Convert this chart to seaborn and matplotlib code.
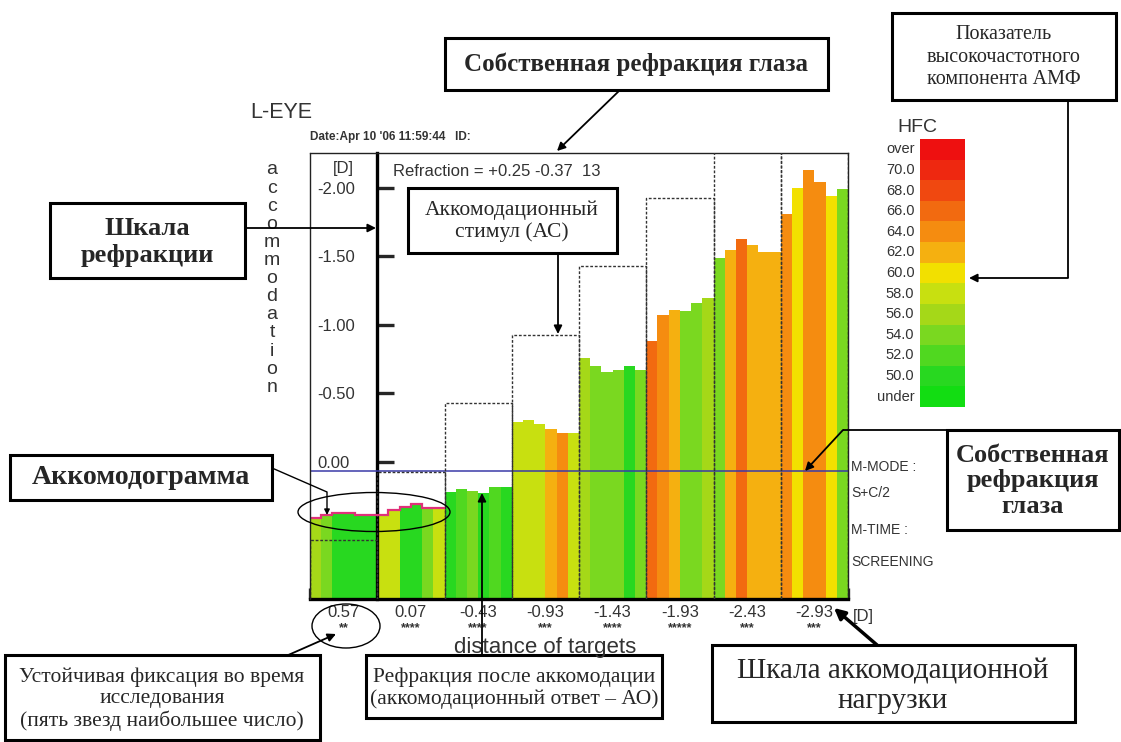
import numpy as np
import pandas as pd
import matplotlib
matplotlib.use('Agg')
import matplotlib.pyplot as plt
from matplotlib.colors import ListedColormap
from matplotlib.patches import Ellipse, Rectangle
import seaborn as sns

sns.set_style('white')
plt.rcParams['font.family'] = ['Liberation Sans', 'DejaVu Sans']

# ---------------- data ----------------
target_labels = ['0.57', '0.07', '-0.43', '-0.93', '-1.43', '-1.93', '-2.43', '-2.93']
stimulus = [0.57, 0.07, -0.43, -0.93, -1.43, -1.93, -2.43, -2.93]
stars = ['**', '****', '****', '***', '****', '*****', '***', '***']

# accommodative response (refraction, D) of every measurement, 6 per target
response = [
    0.41, 0.39, 0.37, 0.37, 0.385, 0.385,
    0.39, 0.35, 0.33, 0.31, 0.335, 0.335,
    0.22, 0.20, 0.21, 0.23, 0.18, 0.18,
    -0.29, -0.31, -0.28, -0.24, -0.21, -0.21,
    -0.76, -0.70, -0.66, -0.67, -0.70, -0.67,
    -0.88, -1.07, -1.11, -1.10, -1.16, -1.20,
    -1.49, -1.55, -1.63, -1.58, -1.53, -1.53,
    -1.81, -2.00, -2.13, -2.04, -1.94, -1.99,
]
hfc_level = [
    '56.0', '54.0', '50.0', '50.0', '50.0', '50.0',
    '58.0', '58.0', '50.0', '50.0', '54.0', '58.0',
    '50.0', '52.0', '54.0', '50.0', '52.0', '50.0',
    '58.0', '58.0', '58.0', '62.0', '64.0', '58.0',
    '56.0', '54.0', '54.0', '54.0', '50.0', '54.0',
    '66.0', '64.0', '62.0', '54.0', '54.0', '56.0',
    '54.0', '62.0', '66.0', '62.0', '62.0', '62.0',
    '64.0', '60.0', '64.0', '64.0', '60.0', '54.0',
]
hfc_labels = ['over', '70.0', '68.0', '66.0', '64.0', '62.0', '60.0',
              '58.0', '56.0', '54.0', '52.0', '50.0', 'under']
hfc_colors = ['#ee1010', '#ee2810', '#f04810', '#f26a10', '#f58c10', '#f5b010',
              '#f2e000', '#c8e010', '#a5d818', '#7ad820', '#50d820', '#28d820', '#12dd12']
own_refraction = 0.065
y_ticks = [-2.0, -1.5, -1.0, -0.5, 0.0, 0.5]
y_tick_labels = ['-2.00', '-1.50', '-1.00', '-0.50', '0.00', '0.50']
n_per = 6

# ---------------- figure ----------------
W, H = 1121, 742
fig = plt.figure(figsize=(W / 100, H / 100), dpi=100)
fig.patch.set_facecolor('white')


def fr(x0, y0, x1, y1):
    return [x0 / W, 1 - y1 / H, (x1 - x0) / W, (y1 - y0) / H]


FLOOR = 1.0
TOP = -2.255
ax = fig.add_axes(fr(310, 153, 848, 599))
resp = np.array(response)
df = pd.DataFrame({'pos': np.arange(len(resp)), 'h': FLOOR - resp, 'hfc': hfc_level})
pal = dict(zip(hfc_labels, hfc_colors))
sns.barplot(data=df, x='pos', y='h', hue='hfc', palette=pal, hue_order=hfc_labels,
            dodge=False, width=1.0, native_scale=True, errorbar=None, saturation=1,
            linewidth=0, legend=False, ax=ax)
nseg = len(stimulus)
ax.set_xlim(-0.5, nseg * n_per - 0.5)
ax.set_ylim(0, FLOOR - TOP)
ax.set_xlabel('')
ax.set_ylabel('')

# own refraction line
ax.axhline(FLOOR - own_refraction, color='#3a3aa8', lw=1.1, zorder=3)

# stimulus dashed boxes
for i, s in enumerate(stimulus):
    x0, x1 = i * n_per - 0.5, i * n_per + n_per - 0.5
    t = FLOOR - s
    ax.plot([x0, x0, x1, x1], [0, t, t, 0], ls=(0, (2, 1.3)), color='#333333', lw=1.0, zorder=4)

# accommodogram outline (first two targets)
ax.stairs(FLOOR - resp[:2 * n_per], edges=np.arange(2 * n_per + 1) - 0.5,
          baseline=None, color='#e0307a', lw=1.6, zorder=4)

# axes frame
for sp in ['top', 'right']:
    ax.spines[sp].set_linewidth(1.0)
    ax.spines[sp].set_color('#222222')
ax.spines['bottom'].set_linewidth(2.4)
ax.spines['bottom'].set_color('black')
ax.spines['left'].set_position(('data', n_per - 0.5))
ax.spines['left'].set_linewidth(2.4)
ax.spines['left'].set_color('black')
ax.axvline(-0.5, color='#222222', lw=1.0, clip_on=False, zorder=5)

ax.set_yticks(FLOOR - np.array(y_ticks))
ax.set_yticklabels(y_tick_labels)
ax.tick_params(axis='y', direction='in', length=12, width=2.4, pad=43, labelsize=12,
               labelcolor='#333333', left=True)
for lbl in ax.get_yticklabels():
    lbl.set_ha('left')

centers = [i * n_per + (n_per - 1) / 2 for i in range(nseg)]
ax.set_xticks(centers)
ax.set_xticklabels(target_labels)
ax.set_xticks([i * n_per - 0.5 for i in range(nseg + 1)], minor=True)
ax.tick_params(axis='x', which='major', length=0, pad=4, labelsize=12, labelcolor='#333333')
ax.tick_params(axis='x', which='minor', direction='in', length=8, width=2.4, bottom=True)
trans = matplotlib.transforms.blended_transform_factory(ax.transData, ax.transAxes)
for c, st in zip(centers, stars):
    ax.text(c, -0.066, st, transform=trans, ha='center', va='center', fontsize=9,
            fontweight='bold', color='#333333')

# ---------------- HFC colour scale ----------------
cax = fig.add_axes(fr(920, 139, 965, 407))
mat = np.arange(len(hfc_labels)).reshape(-1, 1)
sns.heatmap(mat, ax=cax, cmap=ListedColormap(hfc_colors), vmin=-0.5, vmax=len(hfc_labels) - 0.5,
            cbar=False, xticklabels=False, yticklabels=hfc_labels)
cax.tick_params(axis='y', length=0, pad=4, labelsize=10.5, labelrotation=0, labelcolor='#333333')

# ---------------- overlay: texts & annotations ----------------
ov = fig.add_axes([0, 0, 1, 1], zorder=10)
ov.set_xlim(0, W)
ov.set_ylim(H, 0)
ov.axis('off')
ov.patch.set_alpha(0)

SERIF = ['Liberation Serif', 'DejaVu Serif']
GRAY = '#333333'

ov.text(250, 113, 'L-EYE', fontsize=15.5, color=GRAY, va='center', ha='left')
ov.text(310, 137, "Date:Apr 10 '06 11:59:44   ID:", fontsize=8.5, fontweight='bold',
        color=GRAY, va='center', ha='left')
ov.text(343, 168, '[D]', fontsize=12, color=GRAY, va='center', ha='center')
ov.text(393, 172, 'Refraction = +0.25 -0.37  13', fontsize=12, color=GRAY, va='center', ha='left')
for k, ch in enumerate('accommodation'):
    ov.text(272, 170 + k * 18.1, ch, fontsize=14, color=GRAY, va='center', ha='center')
ov.text(545, 648, 'distance of targets', fontsize=16, color=GRAY, va='center', ha='center')
ov.text(853, 617, '[D]', fontsize=12, color=GRAY, va='center', ha='left')
for yy, tx in zip([467, 493, 530, 562], ['M-MODE :', 'S+C/2', 'M-TIME :', 'SCREENING']):
    ov.text(851, yy, tx, fontsize=10, color=GRAY, va='center', ha='left')
ov.text(897, 128, 'HFC', fontsize=14, color=GRAY, va='center', ha='left')


def box(x0, y0, x1, y1, lw=2.2):
    ov.add_patch(Rectangle((x0, y0), x1 - x0, y1 - y0, fc='white', ec='black', lw=lw, zorder=2))


def arrow(p0, p1, lw=1.3, ms=12):
    ov.annotate('', xy=p1, xytext=p0,
                arrowprops=dict(arrowstyle='-|>', color='black', lw=lw, mutation_scale=ms,
                                shrinkA=0, shrinkB=0), zorder=3)


def line(xs, ys, lw=1.3):
    ov.plot(xs, ys, color='black', lw=lw, zorder=3, solid_capstyle='butt')


# A
box(445, 38, 828, 90)
ov.text(636, 64, 'Собственная рефракция глаза', family=SERIF, fontsize=18, fontweight='bold',
        ha='center', va='center', zorder=4)
arrow((620, 90), (557, 151))
# B
box(892, 13, 1116, 100)
ov.text(1004, 57, 'Показатель\nвысокочастотного\nкомпонента АМФ', family=SERIF, fontsize=14.5,
        ha='center', va='center', linespacing=1.25, zorder=4)
line([1068, 1068], [100, 278])
arrow((1068, 278), (969, 278))
# C
box(50, 203, 245, 278)
ov.text(147, 242, 'Шкала\nрефракции', family=SERIF, fontsize=19, fontweight='bold',
        ha='center', va='center', linespacing=1.22, zorder=4)
arrow((245, 228), (376, 228))
# D
box(408, 188, 617, 253)
ov.text(512, 221, 'Аккомодационный\nстимул (АС)', family=SERIF, fontsize=15.5,
        ha='center', va='center', linespacing=1.14, zorder=4)
arrow((558, 253), (558, 334))
# E
box(10, 455, 272, 500)
ov.text(141, 478, 'Аккомодограмма', family=SERIF, fontsize=20, fontweight='bold',
        ha='center', va='center', zorder=4)
line([272, 327], [468, 492], lw=1.0)
arrow((327, 492), (327, 515), lw=1.0, ms=8)
ov.add_patch(Ellipse((374, 512), 152, 39, fill=False, ec='black', lw=1.0, zorder=3))
# F
box(947, 430, 1119, 530)
ov.text(1033, 481, 'Собственная\nрефракция\nглаза', family=SERIF, fontsize=19, fontweight='bold',
        ha='center', va='center', linespacing=1.15, zorder=4)
line([947, 843], [430, 430])
arrow((843, 430), (805, 471))
# G
box(712, 645, 1075, 722)
ov.text(893, 686, 'Шкала аккомодационной\nнагрузки', family=SERIF, fontsize=21,
        ha='center', va='center', linespacing=1.18, zorder=4)
arrow((877, 645), (834, 608), lw=2.5, ms=16)
# H
box(5, 655, 320, 740)
ov.text(162, 699, 'Устойчивая фиксация во время\nисследования\n(пять звезд наибольшее число)',
        family=SERIF, fontsize=15.5, ha='center', va='center', linespacing=1.15, zorder=4)
arrow((286, 656), (336, 634))
ov.add_patch(Ellipse((346, 626), 68, 44, fill=False, ec='black', lw=1.0, zorder=3))
# I
box(366, 655, 662, 718)
ov.text(514, 688, 'Рефракция после аккомодации\n(аккомодационный ответ – АО)', family=SERIF,
        fontsize=15.5, ha='center', va='center', linespacing=1.15, zorder=4)
arrow((482, 655), (482, 493))

fig.savefig('out.png', dpi=100, facecolor='white')
